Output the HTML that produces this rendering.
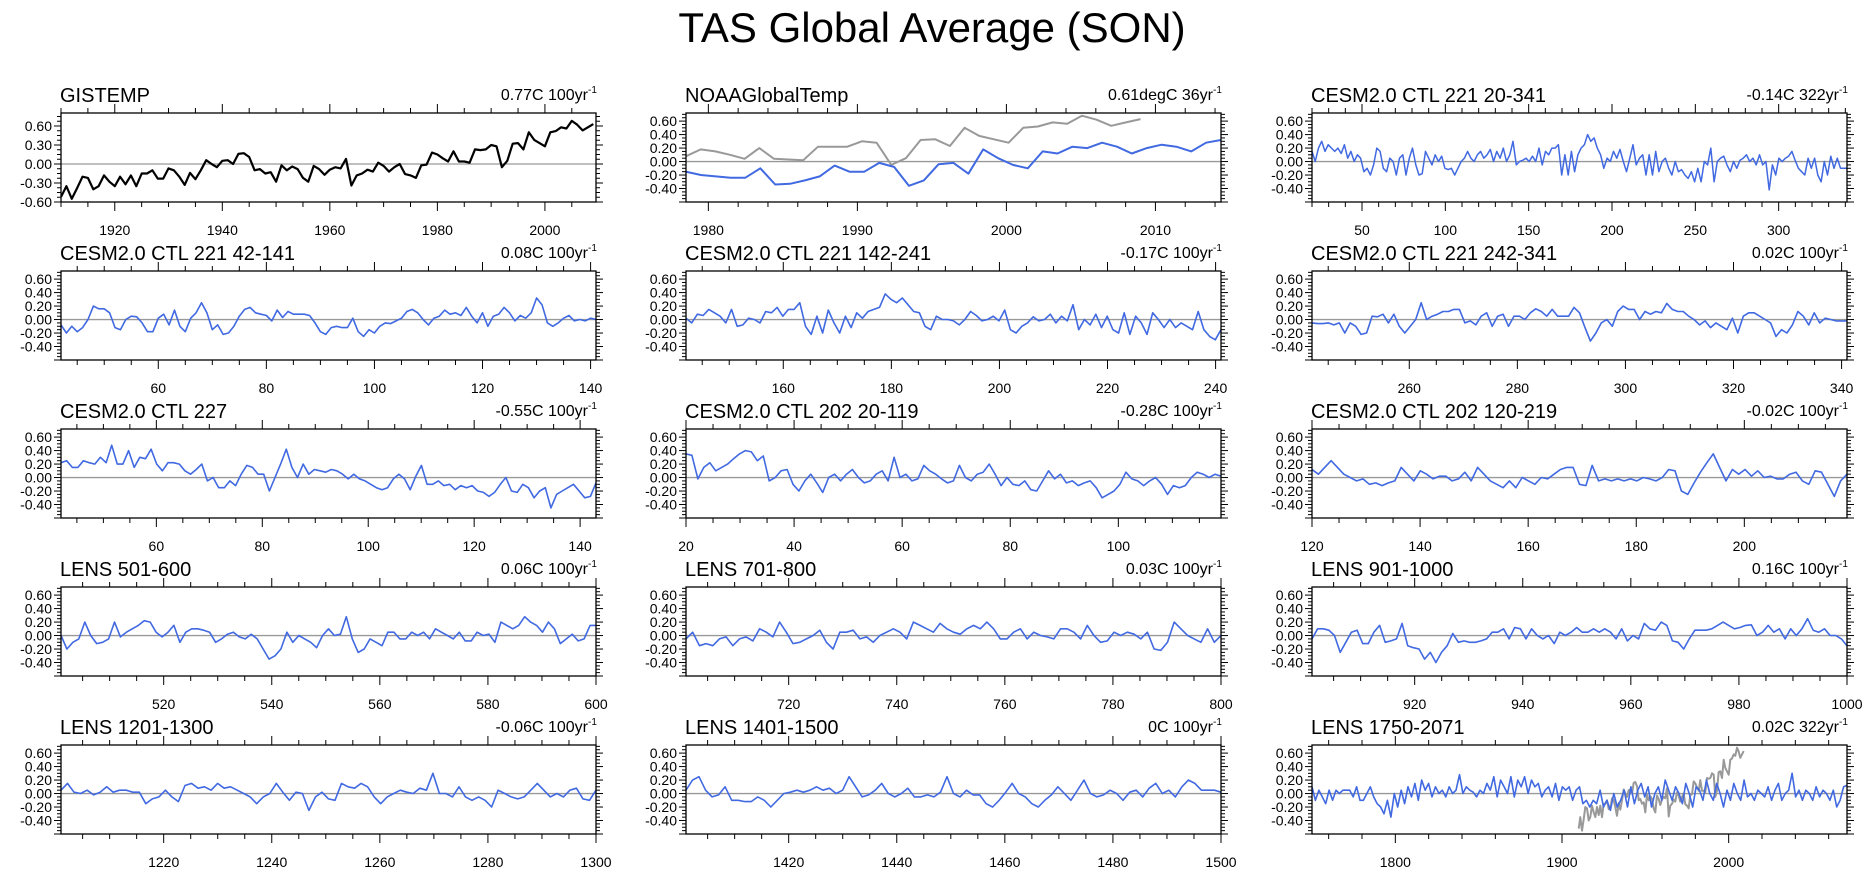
<!DOCTYPE html>
<html><head><meta charset="utf-8"><title>TAS Global Average (SON)</title>
<style>
html,body{margin:0;padding:0;background:#fff;}
svg{display:block;font-family:"Liberation Sans",Arial,sans-serif;}
</style></head>
<body>
<svg id="chart" width="1863" height="874" viewBox="0 0 1863 874" xmlns="http://www.w3.org/2000/svg">
<text x="932" y="42" font-size="42" text-anchor="middle" fill="#000">TAS Global Average (SON)</text>
</svg>
<script>
// ---- data ----
const gistemp = [-0.52,-0.35,-0.55,-0.38,-0.2,-0.22,-0.4,-0.35,-0.18,-0.28,-0.35,-0.2,-0.32,-0.18,-0.35,-0.15,-0.15,-0.1,-0.23,-0.23,-0.07,-0.1,-0.2,-0.33,-0.14,-0.24,-0.1,0.06,0.0,-0.05,0.05,0.06,0.0,0.16,0.17,0.11,-0.1,-0.08,-0.15,-0.13,-0.28,-0.02,-0.1,-0.04,-0.08,-0.22,-0.28,-0.03,-0.08,-0.17,-0.09,-0.05,-0.07,0.08,-0.34,-0.18,-0.15,-0.09,-0.12,0.02,-0.03,-0.12,-0.05,0.0,-0.16,-0.18,-0.22,-0.02,-0.01,0.18,0.15,0.09,0.04,0.2,0.04,0.04,0.02,0.23,0.22,0.23,0.3,0.28,-0.05,0.05,0.32,0.33,0.23,0.5,0.38,0.33,0.28,0.5,0.52,0.58,0.56,0.68,0.62,0.53,0.58,0.63];
const noaaBlue = [-0.15,-0.2,-0.22,-0.24,-0.24,-0.1,-0.34,-0.33,-0.28,-0.22,-0.06,-0.15,-0.15,-0.02,-0.08,-0.36,-0.28,-0.04,-0.02,-0.18,0.18,0.05,-0.05,-0.1,0.15,0.12,0.22,0.2,0.28,0.22,0.12,0.2,0.25,0.22,0.15,0.28,0.32];
const noaaGray = [0.08,0.18,0.15,0.1,0.04,0.2,0.04,0.03,0.02,0.22,0.22,0.22,0.3,0.28,-0.05,0.05,0.32,0.33,0.23,0.5,0.38,0.33,0.28,0.5,0.52,0.58,0.56,0.68,0.62,0.53,0.58,0.63];
const ctl221full = [0.15,0.0,0.2,0.3,0.15,0.25,0.2,0.15,0.2,0.12,0.25,0.05,0.15,0.0,0.1,0.05,
 -0.15,-0.1,-0.2,-0.05,0.2,0.15,-0.1,-0.15,0.05,0.0,-0.2,0.05,0.1,-0.2,0.05,0.2,-0.05,-0.2,-0.18,0.15,0.05,-0.05,0.1,0.0,0.08,-0.1,-0.12,-0.1,-0.2,
 -0.1,0.0,0.05,0.15,0.05,0.0,0.1,0.15,0.05,0.1,0.18,0.0,0.15,0.05,0.2,0.0,0.1,0.3,-0.05,0.0,0.02,0.05,0.0,0.08,0.0,
 0.2,-0.05,0.15,0.1,0.2,0.2,0.25,-0.2,0.1,-0.2,0.15,-0.15,0.1,0.2,0.25,0.4,0.3,0.35,0.2,0.1,-0.1,0.05,0.0,0.15,0.05,
 0.18,0.0,-0.15,0.05,0.25,-0.05,0.05,0.1,-0.2,0.1,-0.2,0.15,-0.15,0.0,0.05,-0.1,-0.2,0.0,-0.15,-0.12,-0.2,-0.25,-0.15,-0.3,-0.1,
 -0.3,0.0,-0.05,0.2,-0.3,0.0,0.05,0.08,-0.05,-0.15,0.0,-0.1,0.02,0.05,0.1,0.0,0.05,-0.05,0.1,-0.05,0.0,-0.42,-0.05,-0.2,0.05,
 0.0,0.05,0.08,0.15,0.02,-0.1,-0.15,-0.2,0.05,-0.1,0.05,-0.2,-0.3,0.0,-0.2,0.08,-0.1,0.05,-0.1,-0.1,-0.1];
const ctl221a = [-0.08,-0.2,-0.1,-0.18,-0.12,0.0,0.2,0.16,0.16,0.1,-0.12,-0.15,0.0,0.05,0.04,-0.05,-0.18,-0.18,0.02,0.08,-0.08,0.14,-0.1,-0.18,0.02,0.1,0.25,0.1,-0.15,-0.08,-0.22,-0.2,-0.1,0.05,0.15,0.18,0.1,0.08,0.06,-0.02,0.14,0.03,0.12,0.08,0.08,0.08,0.06,-0.05,-0.18,-0.22,-0.12,-0.1,-0.12,-0.12,0.02,-0.18,-0.25,-0.15,-0.2,-0.1,-0.05,-0.06,-0.02,0.02,0.12,0.15,0.1,0.0,-0.08,0.02,0.05,0.14,0.08,0.1,0.06,0.18,0.05,-0.05,0.1,-0.1,0.05,0.08,0.18,0.1,-0.02,0.06,0.02,0.1,0.32,0.22,-0.05,-0.1,-0.05,0.02,0.06,-0.02,0.0,-0.02,0.02,0.0];
const ctl221b = [0.02,-0.05,0.08,0.06,0.15,0.1,0.05,-0.05,0.15,-0.1,-0.08,0.02,0.0,-0.05,0.12,0.1,0.18,0.05,0.15,0.15,0.25,-0.1,-0.22,0.05,-0.2,0.14,-0.05,-0.2,0.05,-0.12,0.1,0.02,0.12,0.15,0.18,0.38,0.3,0.25,0.32,0.22,0.12,0.1,-0.1,-0.15,0.05,0.0,0.0,-0.02,-0.08,0.0,0.12,0.06,-0.02,0.0,0.05,-0.02,0.14,-0.15,-0.2,-0.1,-0.05,0.04,-0.02,0.0,0.08,-0.05,0.05,-0.02,0.22,-0.15,0.0,-0.08,0.08,-0.12,0.05,-0.15,-0.2,0.1,-0.22,0.05,-0.05,-0.22,0.1,0.0,-0.12,0.0,-0.12,-0.05,-0.1,-0.15,0.12,-0.15,-0.25,-0.3,-0.15];
const ctl221c = [-0.05,-0.06,-0.06,-0.05,-0.08,-0.05,-0.2,-0.05,-0.1,-0.22,-0.2,0.05,0.04,0.08,-0.05,0.08,-0.1,-0.2,-0.1,0.0,0.25,0.0,0.05,0.08,0.12,0.12,0.15,0.15,-0.05,-0.02,-0.08,0.05,0.1,-0.1,0.05,0.08,-0.1,0.05,0.05,0.0,0.1,0.16,0.12,0.05,0.15,0.05,0.05,0.05,0.18,0.1,-0.12,-0.32,-0.2,-0.05,0.0,-0.1,0.12,0.2,0.15,0.15,0.0,0.12,0.08,0.12,0.1,0.24,0.15,0.12,0.12,0.05,0.0,-0.08,-0.02,-0.12,-0.05,-0.1,-0.15,0.02,-0.2,0.05,0.1,0.1,0.05,0.0,-0.05,-0.25,-0.15,-0.2,-0.08,0.12,0.05,-0.08,0.1,-0.05,0.02,0.0,-0.02,-0.02,-0.02];
const ctl227 = [0.22,0.25,0.15,0.15,0.25,0.22,0.2,0.3,0.22,0.48,0.2,0.2,0.4,0.15,0.3,0.28,0.42,0.2,0.1,0.22,0.22,0.2,0.1,0.05,0.12,0.2,-0.05,0.0,-0.15,-0.15,-0.05,-0.12,0.05,0.18,0.15,0.05,0.05,-0.2,0.0,0.2,0.42,0.15,0.0,0.2,0.05,0.12,0.1,0.08,0.12,0.1,0.05,-0.02,0.05,-0.02,-0.05,-0.1,-0.15,-0.18,-0.15,-0.02,0.05,-0.02,-0.18,0.02,0.18,-0.1,-0.1,-0.05,-0.12,-0.1,-0.18,-0.12,-0.15,-0.12,-0.2,-0.22,-0.28,-0.22,-0.1,0.0,-0.2,-0.22,-0.1,-0.15,-0.3,-0.2,-0.15,-0.45,-0.25,-0.2,-0.15,-0.1,-0.2,-0.3,-0.28,-0.08];
const ctl202a = [0.35,0.33,-0.02,0.15,0.22,0.1,0.15,0.2,0.28,0.35,0.4,0.38,0.25,0.32,-0.05,0.0,0.1,0.12,-0.1,-0.2,-0.05,0.05,-0.08,-0.22,0.0,0.05,-0.05,0.05,0.12,0.0,-0.08,-0.05,0.05,0.1,-0.05,0.3,0.0,0.05,-0.05,-0.02,0.18,0.1,0.05,-0.02,-0.08,-0.05,0.18,0.0,-0.05,0.05,0.08,0.2,0.05,-0.12,0.0,-0.1,-0.12,-0.05,-0.18,-0.2,-0.05,0.1,-0.02,0.05,-0.08,-0.05,-0.12,-0.08,-0.05,-0.15,-0.3,-0.25,-0.2,-0.1,0.08,-0.02,-0.05,-0.12,-0.05,0.0,-0.1,-0.25,-0.12,-0.15,-0.12,0.0,0.08,0.05,0.0,0.05,0.02];
const ctl202b = [0.12,0.05,0.15,0.25,0.15,0.05,0.0,-0.05,-0.02,-0.1,-0.08,-0.12,-0.08,-0.05,0.15,0.05,-0.05,0.1,0.05,-0.02,0.02,0.02,-0.05,-0.02,0.08,-0.05,0.15,0.05,-0.05,-0.1,-0.15,-0.05,-0.15,0.0,-0.05,-0.1,0.0,-0.02,0.05,0.12,0.15,0.15,-0.1,-0.12,0.18,-0.05,-0.02,-0.05,-0.02,-0.05,-0.02,-0.05,0.0,-0.02,-0.05,0.0,0.12,0.1,-0.2,-0.25,-0.08,0.08,0.22,0.35,0.15,-0.05,0.12,0.05,0.12,0.02,0.1,0.0,0.02,-0.02,-0.02,0.05,0.08,-0.05,-0.1,0.1,0.08,-0.1,-0.28,-0.05,0.05];
const lens501 = [0.0,-0.2,-0.1,-0.05,0.2,0.0,-0.12,-0.1,-0.05,0.2,-0.02,0.05,0.1,0.15,0.22,0.2,0.05,-0.02,0.05,0.15,-0.1,0.05,0.1,0.1,0.08,0.05,-0.1,-0.05,0.02,0.05,-0.02,-0.05,0.02,-0.05,-0.2,-0.35,-0.3,-0.2,0.05,-0.1,0.0,-0.05,-0.1,-0.18,0.0,0.1,0.0,0.02,0.28,-0.05,-0.25,-0.2,-0.05,-0.1,-0.15,0.05,0.05,-0.05,-0.05,0.05,0.0,0.05,-0.05,0.1,0.05,0.0,-0.05,0.05,-0.08,-0.08,0.05,0.0,0.02,-0.1,0.2,0.15,0.1,0.15,0.28,0.2,0.15,0.05,0.2,0.1,-0.12,-0.05,0.02,-0.08,-0.05,0.15,0.15];
const lens701 = [-0.05,0.05,-0.15,-0.12,-0.15,-0.05,-0.02,-0.15,-0.05,-0.02,-0.08,0.1,0.05,-0.02,0.2,0.05,-0.12,-0.1,-0.05,0.0,0.08,-0.1,-0.2,0.05,0.05,0.08,-0.05,-0.02,-0.1,0.0,0.05,0.1,0.05,-0.05,0.2,0.15,0.1,0.05,0.18,0.1,0.05,0.02,0.1,0.15,0.1,0.2,0.1,-0.05,-0.05,0.05,0.1,-0.05,0.05,0.0,-0.02,-0.05,0.1,0.1,0.05,-0.05,0.15,0.0,-0.1,-0.08,0.05,0.0,0.05,0.02,-0.05,0.05,-0.2,-0.22,-0.1,0.2,0.1,0.0,-0.05,-0.1,0.1,-0.1,0.0];
const lens901 = [-0.05,0.1,0.1,0.08,0.0,-0.25,-0.1,0.05,0.08,-0.12,-0.12,0.05,0.15,-0.1,-0.08,-0.05,0.18,-0.15,-0.18,-0.2,-0.35,-0.25,-0.4,-0.25,-0.15,0.03,-0.1,-0.08,-0.1,-0.1,-0.08,-0.05,0.05,0.05,0.1,-0.05,0.12,0.1,-0.05,0.1,0.0,-0.05,0.0,-0.12,0.05,0.0,0.05,0.12,0.05,0.05,0.1,0.05,0.1,0.05,-0.05,0.1,-0.08,0.0,-0.05,0.18,0.1,0.08,0.2,0.15,-0.08,-0.1,-0.2,-0.05,0.08,0.08,0.08,0.1,0.15,0.2,0.15,0.1,0.12,0.15,0.16,0.0,0.05,0.15,0.05,0.1,-0.05,0.1,0.0,0.1,0.25,0.08,0.05,0.1,0.0,0.0,-0.05,-0.15];
const lens1201 = [0.05,0.15,0.02,0.0,0.05,-0.02,0.02,0.1,0.02,0.05,0.05,0.02,0.02,-0.15,-0.08,-0.05,0.05,-0.05,-0.12,0.12,0.15,0.08,0.1,0.05,0.15,0.08,0.1,0.05,0.0,-0.05,-0.15,-0.05,0.0,0.15,0.02,-0.1,0.02,0.0,-0.25,-0.05,0.02,-0.08,-0.1,0.15,0.1,0.08,0.15,0.1,-0.05,-0.15,-0.05,0.0,0.05,0.02,0.0,0.08,0.05,0.3,0.0,0.0,-0.05,0.1,-0.05,-0.1,-0.05,-0.1,-0.2,0.05,0.0,-0.05,-0.08,-0.05,0.05,0.15,0.05,-0.05,0.0,-0.05,0.05,0.08,-0.08,-0.1,0.05];
const lens1401 = [0.05,0.2,0.25,0.05,-0.05,-0.02,0.1,-0.1,-0.1,-0.12,-0.12,-0.05,-0.1,-0.2,-0.1,0.0,0.02,0.05,0.02,0.05,0.1,0.05,0.08,0.0,0.05,0.25,0.1,-0.05,-0.02,0.05,0.15,0.0,-0.05,0.0,0.08,-0.05,-0.05,-0.02,-0.05,0.02,0.25,0.0,-0.05,0.05,-0.02,-0.02,-0.15,-0.2,-0.1,0.02,0.15,0.0,-0.05,-0.15,-0.2,-0.1,-0.02,0.1,0.0,-0.1,0.05,0.2,0.0,-0.05,-0.02,0.05,0.0,-0.1,0.02,0.05,-0.05,0.08,0.15,0.0,0.05,-0.05,0.1,0.2,0.15,0.05,0.05,0.05,0.02];
const lens1750 = [0.1,-0.1,0.05,-0.05,-0.15,0.05,-0.1,0.05,0.0,0.05,0.05,0.05,-0.05,0.1,-0.1,-0.1,0.0,0.1,-0.05,-0.15,-0.2,-0.3,-0.1,-0.35,0.0,-0.2,0.05,-0.15,0.1,-0.05,0.15,-0.1,0.2,0.05,0.15,-0.05,0.1,0.0,0.05,-0.05,0.1,0.0,0.05,0.28,0.0,0.1,0.05,0.02,-0.05,0.05,0.0,0.15,0.05,0.25,-0.05,0.2,0.1,0.0,0.25,-0.05,0.2,0.1,0.25,0.0,0.2,0.1,0.15,-0.05,0.05,0.1,-0.05,0.15,-0.1,0.1,0.05,0.1,-0.1,0.05,0.1,-0.15,-0.1,-0.2,-0.1,-0.15,0.05,-0.2,-0.1,-0.25,0.0,-0.2,-0.1,0.05,-0.2,0.1,-0.15,0.05,0.15,-0.05,0.1,-0.2,0.0,0.1,-0.1,0.2,0.05,-0.1,0.1,0.0,-0.15,0.15,0.0,-0.2,0.1,0.05,-0.1,0.2,0.0,-0.1,0.15,0.0,-0.2,0.05,-0.1,0.15,0.0,-0.1,0.2,-0.05,0.0,-0.1,0.05,0.0,-0.05,0.1,-0.1,0.05,0.15,-0.1,0.0,0.05,0.3,-0.05,0.05,-0.1,0.05,0.0,-0.1,0.1,-0.05,0.05,0.0,-0.1,0.05,-0.2,-0.1,0.1,0.12];

const panelTitles = ["GISTEMP","NOAAGlobalTemp","CESM2.0 CTL 221 20-341","CESM2.0 CTL 221 42-141","CESM2.0 CTL 221 142-241","CESM2.0 CTL 221 242-341","CESM2.0 CTL 227","CESM2.0 CTL 202 20-119","CESM2.0 CTL 202 120-219","LENS 501-600","LENS 701-800","LENS 901-1000","LENS 1201-1300","LENS 1401-1500","LENS 1750-2071"];
const trendText = ["0.77C 100yr","0.61degC 36yr","-0.14C 322yr","0.08C 100yr","-0.17C 100yr","0.02C 100yr","-0.55C 100yr","-0.28C 100yr","-0.02C 100yr","0.06C 100yr","0.03C 100yr","0.16C 100yr","-0.06C 100yr","0C 100yr","0.02C 322yr"];
const xRanges = [[1910,2009.5],[1978.5,2014.4],[20,341],[42,141],[142,241],[242,341],[42,143],[20,119],[120,219],[501,600],[701,800],[901,1000],[1201,1300],[1401,1500],[1750,2071]];
const xMajor = [20,10,50,20,20,20,20,20,20,20,20,20,20,20,100];
const xMinor = [5,2,10,5,5,5,5,5,5,5,5,5,5,5,20];

// series: [panelIndex, values, startX, endX, color, width]
const seriesList = [
 [0,gistemp,1910,2009,"#000",2.2],
 [1,noaaGray,1978.5,2009,"#999",2],
 [1,noaaBlue,1978.5,2014.4,"#4169e1",2],
 [2,ctl221full,20,341,"#4169e1",1.5],
 [3,ctl221a,42,141,"#4169e1",1.6],
 [4,ctl221b,142,241,"#4169e1",1.6],
 [5,ctl221c,242,341,"#4169e1",1.6],
 [6,ctl227,42,143,"#4169e1",1.6],
 [7,ctl202a,20,119,"#4169e1",1.6],
 [8,ctl202b,120,219,"#4169e1",1.6],
 [9,lens501,501,600,"#4169e1",1.6],
 [10,lens701,701,800,"#4169e1",1.6],
 [11,lens901,901,1000,"#4169e1",1.6],
 [12,lens1201,1201,1300,"#4169e1",1.6],
 [13,lens1401,1401,1500,"#4169e1",1.6],
 [14,gistemp,1910,2009,"#999",2],
 [14,lens1750,1750,2071,"#4169e1",1.6]
];

const NS = "http://www.w3.org/2000/svg";
const svg = document.getElementById('chart');
const colLeft = [61, 686, 1312];
const rowTop = [113, 271, 429, 587, 745];
const W = 535, H = 89;

function mk(tag, attrs, parent) {
  const e = document.createElementNS(NS, tag);
  for (const k in attrs) e.setAttribute(k, attrs[k]);
  (parent || svg).appendChild(e);
  return e;
}
function yRangeFor(p) { return p === 0 ? [-0.6, 0.805] : [-0.6, 0.72]; }

const panels = [];
for (let p = 0; p < 15; p++) {
  const x0 = colLeft[p % 3], y0 = rowTop[Math.floor(p / 3)];
  const [xa, xb] = xRanges[p];
  const [ya, yb] = yRangeFor(p);
  const sx = v => x0 + (v - xa) / (xb - xa) * W;
  const sy = v => y0 + H - (v - ya) / (yb - ya) * H;
  const g = mk('g', {});
  
  
  const cid = 'clip' + p;
  const cp = mk('clipPath', {id: cid}, g);
  mk('rect', {x: x0, y: y0, width: W, height: H}, cp);
  panels.push({g, sx, sy, x0, y0, cid});

  const t = mk('text', {x: x0 - 1, y: y0 - 11, 'font-size': 20, fill: '#000'}, g);
  t.textContent = panelTitles[p];
  
  
  const tr = mk('text', {x: x0 + W - 8, y: y0 - 13, 'font-size': 16, 'text-anchor': 'end', fill: '#000'}, g);
  tr.textContent = trendText[p];
  
  
  const sup = mk('text', {x: x0 + W - 8, y: y0 - 20, 'font-size': 10, fill: '#000'}, g);
  sup.textContent = '-1';
  
  

  const zl = mk('line', {x1: x0, x2: x0 + W, y1: sy(0), y2: sy(0), stroke: '#999', 'stroke-width': 1.3}, g);
  
  

  const yStep = p === 0 ? 0.3 : 0.2;
  const yMinorStep = p === 0 ? 0.075 : 0.05;
  for (let v = -0.6; v <= yb + 1e-6; v += yMinorStep) {
    const y = sy(v);
    const isMaj = Math.abs(Math.round(v / yStep) * yStep - v) < 1e-6;
    const len = isMaj ? 7 : 4;
    mk('line', {x1: x0 - len, x2: x0, y1: y, y2: y, stroke: '#000', 'stroke-width': 1}, g);
    mk('line', {x1: x0 + W, x2: x0 + W + len, y1: y, y2: y, stroke: '#000', 'stroke-width': 1}, g);
  }
  const yLabs = p === 0 ? [-0.6, -0.3, 0, 0.3, 0.6] : [-0.4, -0.2, 0, 0.2, 0.4, 0.6];
  for (const v of yLabs) {
    const l = mk('text', {x: x0 - 9, y: sy(v) + 5, 'font-size': 14, 'text-anchor': 'end', fill: '#000'}, g);
    l.textContent = v.toFixed(2);
    
    
  }
  const mn = xMinor[p], mj = xMajor[p];
  for (let v = Math.ceil(xa / mn) * mn; v <= xb + 1e-6; v += mn) {
    const x = sx(v);
    const isMaj = v % mj === 0;
    const len = isMaj ? 9 : 5;
    mk('line', {x1: x, x2: x, y1: y0 - len, y2: y0, stroke: '#000', 'stroke-width': 1}, g);
    mk('line', {x1: x, x2: x, y1: y0 + H, y2: y0 + H + len, stroke: '#000', 'stroke-width': 1}, g);
    if (isMaj) {
      const l = mk('text', {x: x, y: y0 + H + 33, 'font-size': 14, 'text-anchor': 'middle', fill: '#000'}, g);
      l.textContent = String(v);
      
      
    }
  }
}

for (const [p, vals, s, e, col, w] of seriesList) {
  const P = panels[p];
  const n = vals.length;
  const pts = vals.map((v, i) => {
    const x = s + i * (e - s) / (n - 1);
    return P.sx(x).toFixed(1) + ',' + P.sy(v).toFixed(1);
  }).join(' ');
  const pl = mk('polyline', {points: pts, fill: 'none', stroke: col, 'stroke-width': w, 'stroke-linejoin': 'round', 'clip-path': 'url(#' + P.cid + ')'}, P.g);
  
  
}

for (const P of panels) {
  const r = mk('rect', {x: P.x0, y: P.y0, width: W, height: H, fill: 'none', stroke: '#000', 'stroke-width': 1.3}, P.g);
  
  
}
</script>
</body></html>
